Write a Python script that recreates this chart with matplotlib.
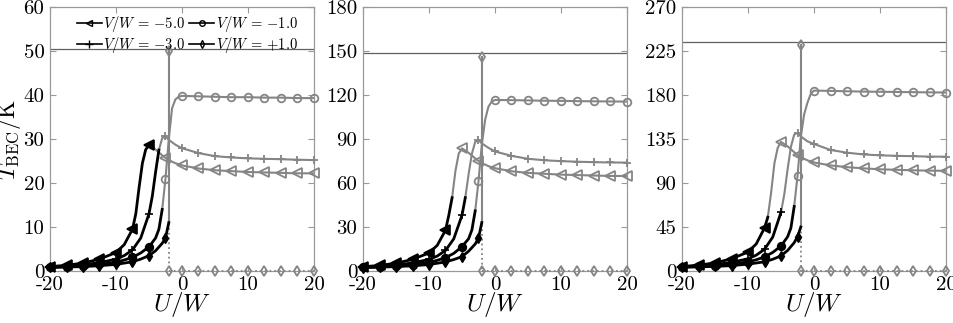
import numpy as np
import matplotlib
matplotlib.use("Agg")
import matplotlib.pyplot as plt
from matplotlib.lines import Line2D

plt.rcParams["font.family"] = "serif"
plt.rcParams["font.serif"] = ["cmr10", "DejaVu Serif"]
plt.rcParams["mathtext.fontset"] = "cm"
plt.rcParams["axes.unicode_minus"] = False

# ---- data ----
u_tri = [-20, -17.5, -15, -12.5, -10, -8.75, -7.5, -7.0, -6.5, -6.0, -5.5, -5.0, -4.0, -3.0,
         -2.5, -2.0, -1.0, 0, 2.5, 5, 7.5, 10, 12.5, 15, 17.5, 20]
tri_p1 = [1.0, 1.3, 1.8, 2.7, 4.2, 6.0, 9.5, 13, 19, 24.5, 27.6, 28.6, 27.6, 26.3,
          25.7, 25.2, 24.5, 24.0, 23.3, 22.9, 22.7, 22.5, 22.4, 22.3, 22.2, 22.2]
tri_p2 = [2.9, 3.8, 5.3, 7.9, 12.3, 17.5, 27.8, 38, 50, 68, 80, 83.6, 80.6, 76.8,
          75.0, 73.6, 71.5, 70.1, 68.0, 66.9, 66.3, 65.7, 65.4, 65.1, 64.8, 64.8]
tri_p3 = [4.6, 6.0, 8.3, 12.5, 19.4, 27.7, 44, 55, 80, 110, 126, 132, 127.5, 121.5,
          118.5, 116.4, 113.2, 111, 108, 106.2, 105, 104, 103.5, 103, 102.6, 102.5]
tri_cut = [-5.0, -6.5, -7.0]

u_plus = [-20, -17.5, -15, -12.5, -10, -8.75, -7.5, -6.25, -5.0, -4.5, -4.0, -3.5, -3.0,
          -2.5, -2.0, -1.0, 0, 2.5, 5, 7.5, 10, 12.5, 15, 17.5, 20]
plus_p1 = [0.9, 1.1, 1.4, 1.9, 2.7, 3.5, 4.8, 7.5, 13, 17, 22.5, 27.5, 30.2,
           30.6, 29.8, 28.7, 27.9, 26.8, 26.1, 25.8, 25.6, 25.5, 25.4, 25.3, 25.2]
plus_p2 = [2.6, 3.2, 4.1, 5.5, 7.9, 10.2, 14, 21.9, 38, 50, 66, 80, 88,
           89.3, 87, 84, 81.5, 78.5, 76.5, 75.5, 74.9, 74.5, 74.2, 74.0, 73.9]
plus_p3 = [4.2, 5.1, 6.5, 8.8, 12.5, 16.2, 22.2, 34.7, 60, 78.5, 104, 127, 139.5,
           141.4, 137.7, 132.6, 129.9, 123.8, 121, 119.2, 118.3, 117.8, 117.4, 117.0, 116.9]
plus_cut = [-3.5, -4.5, -5.0]

u_circ = [-20, -17.5, -15, -12.5, -10, -8.75, -7.5, -6.25, -5.0, -4.0, -3.5, -3.0, -2.5,
          -2.0, -1.5, -1.0, -0.5, 0, 2.5, 5, 7.5, 10, 12.5, 15, 17.5, 20]
circ_p1 = [0.85, 1.0, 1.2, 1.5, 2.0, 2.5, 3.1, 4.1, 5.5, 7.5, 9.5, 14, 21,
           30, 37, 39, 39.6, 39.8, 39.7, 39.6, 39.5, 39.5, 39.4, 39.4, 39.3, 39.3]
circ_p2 = [2.5, 2.9, 3.5, 4.4, 5.8, 7.3, 9.1, 12, 16.6, 22, 28, 41, 61.3,
           86, 103, 112, 115.5, 116.6, 116.5, 116.3, 116.1, 116.0, 115.8, 115.7, 115.6, 115.5]
circ_p3 = [4.0, 4.7, 5.6, 7.0, 9.3, 11.5, 14.4, 19, 25.6, 35, 44, 66, 97,
           137, 160, 172, 181, 184.5, 184.2, 183.8, 183.5, 183.3, 183.1, 182.9, 182.7, 182.5]
circ_cut = [-3.0, -3.0, -3.0]

u_dia = [-20, -17.5, -15, -12.5, -10, -8.75, -7.5, -6.25, -5.0, -4.0, -3.0, -2.5, -2.0]
dia_p1 = [0.8, 0.9, 1.0, 1.2, 1.5, 1.8, 2.1, 2.7, 3.5, 4.6, 6.3, 7.5, 11]
dia_p2 = [2.3, 2.6, 3.0, 3.5, 4.4, 5.3, 6.2, 7.8, 9.8, 13.5, 18.4, 22.3, 33]
dia_p3 = [3.8, 4.2, 4.7, 5.5, 7.0, 8.2, 9.4, 12, 15.5, 21, 29, 35, 45]
dia_peak = [50, 146, 231]
u_zero = [-2.0, 0, 2.5, 5, 7.5, 10, 12.5, 15, 17.5, 20]

ref_line = [50.5, 148.5, 234]
ymax = [60, 180, 270]
yticks = [[0, 10, 20, 30, 40, 50, 60], [0, 30, 60, 90, 120, 150, 180],
          [0, 45, 90, 135, 180, 225, 270]]

labels = ["$V/W$ = $-5.0$", "$V/W$ = $-3.0$", "$V/W$ = $-1.0$", "$V/W$ = $+1.0$"]

BLACK = "black"
GRAY = "#858585"

fig = plt.figure(figsize=(9.54, 3.23), dpi=100)
lefts = [50 / 954, 363 / 954, 682 / 954]
axes = [fig.add_axes([l, 52 / 323, 264 / 954, 264 / 323]) for l in lefts]


def on_grid(x):
    x = np.asarray(x, dtype=float)
    return np.isclose(np.mod(x, 2.5), 0) | np.isclose(np.mod(x, 2.5), 2.5)


def draw_curve(ax, u, T, cut, marker, ms, mew):
    u = np.asarray(u, dtype=float)
    T = np.asarray(T, dtype=float)
    blk = u <= cut + 1e-9
    gry = u >= cut - 1e-9
    ax.plot(u[gry], T[gry], color=GRAY, lw=1.5, zorder=2)
    mg = gry & on_grid(u) & ~np.isclose(u, cut)
    ax.plot(u[mg], T[mg], ls="none", marker=marker, ms=ms, mec=GRAY,
            mfc="none", mew=1.3, zorder=3, clip_on=False)
    ax.plot(u[blk], T[blk], color=BLACK, lw=2.0, zorder=4)
    mb = blk & on_grid(u)
    ax.plot(u[mb], T[mb], ls="none", marker=marker, ms=ms, mec=BLACK,
            mfc=BLACK, mew=mew, zorder=5, clip_on=False)


tri_all = [tri_p1, tri_p2, tri_p3]
plus_all = [plus_p1, plus_p2, plus_p3]
circ_all = [circ_p1, circ_p2, circ_p3]
dia_all = [dia_p1, dia_p2, dia_p3]

for i, ax in enumerate(axes):
    ax.axhline(ref_line[i], color="#606060", lw=0.9, zorder=1)
    draw_curve(ax, u_tri, tri_all[i], tri_cut[i], "<", 6.5, 1.2)
    draw_curve(ax, u_plus, plus_all[i], plus_cut[i], "+", 6, 1.2)
    draw_curve(ax, u_circ, circ_all[i], circ_cut[i], "o", 5.5, 1.2)

    # V/W = +1 : black branch, jump at U/W = -2, then zero
    dx = np.asarray(u_dia, dtype=float)
    dy = np.asarray(dia_all[i], dtype=float)
    ax.plot([dx[-1], dx[-1]], [dy[-1], dia_peak[i]], color=GRAY, lw=1.5, zorder=2)
    ax.plot([dx[-1], dx[-1]], [dia_peak[i], 0], color=GRAY, lw=1.3, ls=":", zorder=2)
    ax.plot(u_zero, np.zeros(len(u_zero)), color=GRAY, lw=1.3, ls=":",
            marker="d", ms=5.5, mec=GRAY, mfc="none", mew=1.3, zorder=3, clip_on=False)
    ax.plot([dx[-1]], [dia_peak[i]], ls="none", marker="d", ms=5.5, mec=GRAY,
            mfc="none", mew=1.3, zorder=3)
    ax.plot(dx, dy, color=BLACK, lw=2.0, zorder=4)
    md = on_grid(dx)
    ax.plot(dx[md], dy[md], ls="none", marker="d", ms=5.5, mec=BLACK, mfc=BLACK,
            zorder=5, clip_on=False)

    ax.set_xlim(-20, 20)
    ax.set_ylim(0, ymax[i])
    ax.set_xticks([-20, -10, 0, 10, 20])
    ax.set_yticks(yticks[i])
    ax.tick_params(direction="in", top=True, right=True, length=4, width=0.8,
                   color="#999999", labelsize=15)
    ax.tick_params(axis="x", pad=4)
    ax.tick_params(axis="y", pad=4)
    for s in ax.spines.values():
        s.set_color("#999999")
        s.set_linewidth(0.9)
    ax.set_xlabel("$U/W$", fontsize=18, labelpad=-3)

axes[0].set_ylabel(r"$T_{\rm BEC}/{\rm K}$", fontsize=17, labelpad=0)

handles = [
    Line2D([], [], color=BLACK, lw=1.2, marker="<", ms=5, mfc="none", mec=BLACK),
    Line2D([], [], color=BLACK, lw=1.2, marker="+", ms=6, mec=BLACK),
    Line2D([], [], color=BLACK, lw=1.2, marker="o", ms=4, mfc="none", mec=BLACK),
    Line2D([], [], color=BLACK, lw=1.2, marker="d", ms=4, mfc="none", mec=BLACK),
]
axes[0].legend(handles, labels, ncol=2, loc="upper center", bbox_to_anchor=(0.52, 0.985),
               frameon=False, fontsize=10.5, handlelength=1.7, handletextpad=0.1,
               columnspacing=0.3, labelspacing=0.05, borderaxespad=0.0, borderpad=0.2)

fig.savefig("out.png", dpi=100)
